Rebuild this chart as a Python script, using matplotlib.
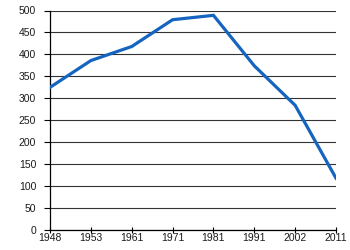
import matplotlib
matplotlib.use("Agg")
import matplotlib.pyplot as plt

years = ["1948", "1953", "1961", "1971", "1981", "1991", "2002", "2011"]
values = [325, 386, 418, 479, 489, 374, 284, 118]
y_ticks = list(range(0, 501, 50))

plt.rcParams["font.family"] = ["Liberation Sans", "DejaVu Sans"]

fig = plt.figure(figsize=(3.5, 2.5), dpi=100)
ax = fig.add_axes([0.143, 0.08, 0.817, 0.878])

x = list(range(len(years)))
ax.plot(x, values, color="#1565c0", linewidth=2.3, solid_joinstyle="miter", zorder=3)

ax.set_xlim(0, len(years) - 1)
ax.set_ylim(0, 500)
ax.set_xticks(x)
ax.set_xticklabels(years)
ax.set_yticks(y_ticks)
ax.yaxis.grid(True, color="#333333", linewidth=0.8)
ax.set_axisbelow(True)

for side in ("top", "right"):
    ax.spines[side].set_visible(False)
for side in ("left", "bottom"):
    ax.spines[side].set_color("#000000")
    ax.spines[side].set_linewidth(0.9)

ax.tick_params(axis="both", labelsize=7.5, width=0.8, colors="#000000", labelcolor="#1a1a1a")
ax.tick_params(axis="x", direction="inout", length=4, pad=0.5)
ax.tick_params(axis="y", direction="out", length=4, pad=6)

fig.savefig("out.png", dpi=100)
